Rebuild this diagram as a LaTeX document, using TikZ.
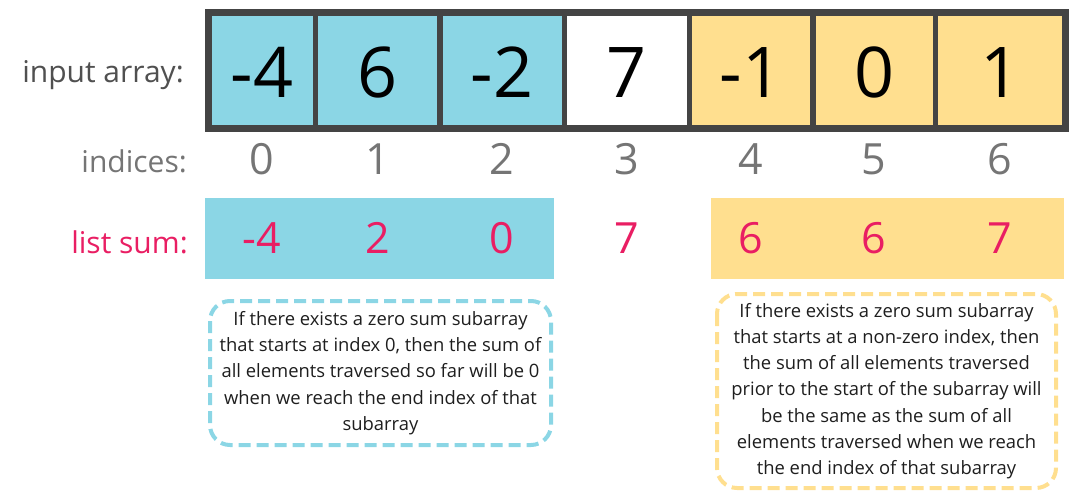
\documentclass[tikz,border=0pt]{standalone}
\usepackage{fontspec}
\setmainfont{Open Sans}
\definecolor{cblue}{RGB}{139,214,229}
\definecolor{cyellow}{RGB}{255,223,143}
\definecolor{bordergray}{RGB}{68,68,68}
\definecolor{labgray}{RGB}{80,80,80}
\definecolor{idxgray}{RGB}{117,117,117}
\definecolor{sumred}{RGB}{233,30,99}
\definecolor{txt}{RGB}{30,30,30}
\begin{document}
\begin{tikzpicture}[x=1pt,y=-1pt,
  cellbox/.style={draw=bordergray, line width=5.5pt, minimum height=116pt, inner sep=0pt, outer sep=0pt},
  val/.style={anchor=base, inner sep=0pt, font=\fontsize{70}{70}\selectfont, text=black},
  idx/.style={anchor=base, inner sep=0pt, font=\fontsize{43}{43}\selectfont, text=idxgray},
  sumv/.style={anchor=base, inner sep=0pt, font=\fontsize{43}{43}\selectfont, text=sumred},
  lab/.style={anchor=base east, inner sep=0pt, font=\fontsize{30}{30}\selectfont},
  sumbox/.style={minimum height=81.3pt, inner sep=0pt, outer sep=0pt},
  note/.style={rounded corners=20pt, line width=4pt, dash pattern=on 12pt off 6pt},
  notetext/.style={align=center, inner sep=0pt, text=txt, font=\fontsize{18.4}{26.2}\selectfont}]
\useasboundingbox (0,0) rectangle (1080,500);

% array cells
\node[cellbox, fill=cblue,   minimum width=107pt]   (c0) at (262,70.5) {};
\node[cellbox, fill=cblue,   minimum width=124.5pt] (c1) at (377.75,70.5) {};
\node[cellbox, fill=cblue,   minimum width=124.5pt] (c2) at (502.25,70.5) {};
\node[cellbox, fill=white,   minimum width=125pt]   (c3) at (627,70.5) {};
\node[cellbox, fill=cyellow, minimum width=123.5pt] (c4) at (751.25,70.5) {};
\node[cellbox, fill=cyellow, minimum width=122.5pt] (c5) at (874.25,70.5) {};
\node[cellbox, fill=cyellow, minimum width=129.5pt] (c6) at (1000.25,70.5) {};
\draw[line width=7pt, bordergray] (c0.north west) rectangle (c6.south east);

% values
\node[val] (v0) at (262,98) {-4};
\node[val] (v1) at (377.75,98) {6};
\node[val] (v2) at (502.25,98) {-2};
\node[val] (v3) at (627,98) {7};
\node[val] (v4) at (751.25,98) {-1};
\node[val] (v5) at (874.25,98) {0};
\node[val] (v6) at (1000.25,98) {1};

% labels
\node[lab, text=labgray] (l1) at (184,83) {input array:};
\node[lab, text=idxgray] (l2) at (187,173) {indices:};
\node[lab, text=sumred]  (l3) at (188,253) {list sum:};

% indices
\node[idx] (i0) at (262,174.6) {0};
\node[idx] (i1) at (377.75,174.6) {1};
\node[idx] (i2) at (502.25,174.6) {2};
\node[idx] (i3) at (627,174.6) {3};
\node[idx] (i4) at (751.25,174.6) {4};
\node[idx] (i5) at (874.25,174.6) {5};
\node[idx] (i6) at (1000.25,174.6) {6};

% sum boxes
\node[sumbox, fill=cblue,   minimum width=348.7pt] (sb) at (379.35,238.35) {};
\node[sumbox, fill=cyellow, minimum width=353pt]   (sy) at (887.5,238.35) {};

% sums
\node[sumv] (s0) at (262,253.3) {-4};
\node[sumv] (s1) at (377.75,253.3) {2};
\node[sumv] (s2) at (502.25,253.3) {0};
\node[sumv] (s3) at (627,253.3) {7};
\node[sumv] (s4) at (751.25,253.3) {6};
\node[sumv] (s5) at (874.25,253.3) {6};
\node[sumv] (s6) at (1000.25,253.3) {7};

% notes
\draw[note, draw=cblue] (210,301) rectangle (551,445);
\node[notetext] (n1) at (380.5,373) {If there exists a zero sum subarray\\that starts at index 0, then the sum of\\all elements traversed so far will be 0\\when we reach the end index of that\\subarray};
\draw[note, draw=cyellow] (717,294) rectangle (1056,488);
\node[notetext] (n2) at (886.5,391) {If there exists a zero sum subarray\\that starts at a non-zero index, then\\the sum of all elements traversed\\prior to the start of the subarray will\\be the same as the sum of all\\elements traversed when we reach\\the end index of that subarray};
\end{tikzpicture}
\end{document}
